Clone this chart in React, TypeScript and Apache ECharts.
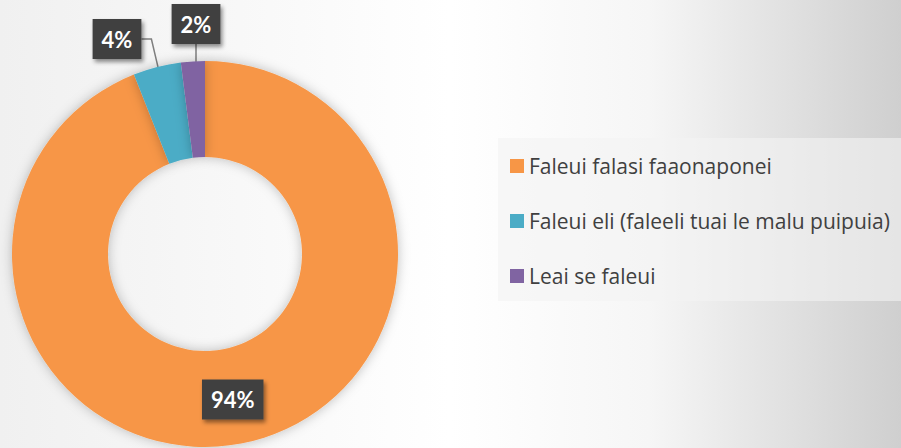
import React, { useEffect, useRef } from "react";
import * as echarts from "echarts";

const categories = [
  "Faleui falasi faaonaponei",
  "Faleui eli (faleeli tuai le malu puipuia)",
  "Leai se faleui",
];
const values = [94, 4, 2];
const colors = ["#F79646", "#4BACC6", "#8064A2"];

const CENTER = [205, 254];
const R_IN = 97;
const R_OUT = 193;
// label box centres for the two small slices
const LABEL_POS: Record<number, [number, number]> = {
  1: [117, 39],
  2: [196, 24],
};

export default function App() {
  const ref = useRef<HTMLDivElement>(null);
  useEffect(() => {
    if (!ref.current) return;
    const chart = echarts.init(ref.current, undefined, { renderer: "svg" });
    const total = values.reduce((a, b) => a + b, 0);
    const midAnchor = (i: number): [number, number] => {
      let before = 0;
      for (let k = 0; k < i; k++) before += values[k];
      const frac = (before + values[i] / 2) / total;
      const ang = frac * Math.PI * 2; // clockwise from top
      const r = (R_IN + R_OUT) / 2;
      return [CENTER[0] + r * Math.sin(ang), CENTER[1] - r * Math.cos(ang)];
    };
    const labelBox = {
      color: "#ffffff",
      fontWeight: "bold" as const,
      fontSize: 22,
      fontFamily: "Lato",
      backgroundColor: "#404040",
      padding: [9, 9, 7, 9],
      lineHeight: 24,
      shadowBlur: 4,
      shadowOffsetX: 2,
      shadowOffsetY: 3,
      shadowColor: "rgba(0,0,0,0.45)",
      formatter: "{d}%",
    };
    chart.setOption({
      animation: false,
      backgroundColor: {
        type: "linear",
        x: 0,
        y: 0,
        x2: 1,
        y2: 0,
        colorStops: [
          { offset: 0, color: "#f0f0f0" },
          { offset: 0.5, color: "#ffffff" },
          { offset: 0.72, color: "#f6f6f6" },
          { offset: 1, color: "#cfcfcf" },
        ],
      },
      legend: {
        orient: "vertical",
        left: 498,
        top: 138,
        padding: [16, 14, 13, 12],
        itemGap: 31,
        itemWidth: 14,
        itemHeight: 14,
        icon: "rect",
        backgroundColor: "rgba(243,243,243,0.6)",
        textStyle: { fontSize: 21, color: "#404040", fontFamily: "Open Sans", lineHeight: 24 },
        data: categories,
      },
      series: [
        {
          type: "pie",
          center: CENTER,
          radius: [R_IN, R_OUT],
          startAngle: 90,
          clockwise: true,
          avoidLabelOverlap: false,
          itemStyle: {
            shadowBlur: 12,
            shadowColor: "rgba(0,0,0,0.25)",
          },
          label: { show: true, position: "outside", ...labelBox },
          labelLine: {
            show: true,
            lineStyle: { color: "#7f7f7f", width: 1.5 },
          },
          labelLayout: (params: any) => {
            const i = params.dataIndex;
            if (!LABEL_POS[i]) return {};
            const [lx, ly] = LABEL_POS[i];
            const a = midAnchor(i);
            const w = params.labelRect.width;
            const h = params.labelRect.height;
            let pts: number[][];
            if (i === 1) {
              pts = [
                [lx + w / 2, ly],
                [lx + w / 2 + 10, ly],
                a,
              ];
            } else {
              pts = [
                [lx, ly + h / 2],
                [lx, ly + h / 2],
                a,
              ];
            }
            return {
              x: lx,
              y: ly,
              align: "center",
              verticalAlign: "middle",
              labelLinePoints: pts,
            };
          },
          data: categories.map((name, i) => ({
            name,
            value: values[i],
            itemStyle: { color: colors[i] },
            ...(i === 0
              ? { label: { position: "inside" }, labelLine: { show: false } }
              : {}),
          })),
        },
      ],
    });
    return () => chart.dispose();
  }, []);
  return <div ref={ref} style={{ width: 901, height: 448, position: "fixed", left: 0, top: 0 }} />;
}
